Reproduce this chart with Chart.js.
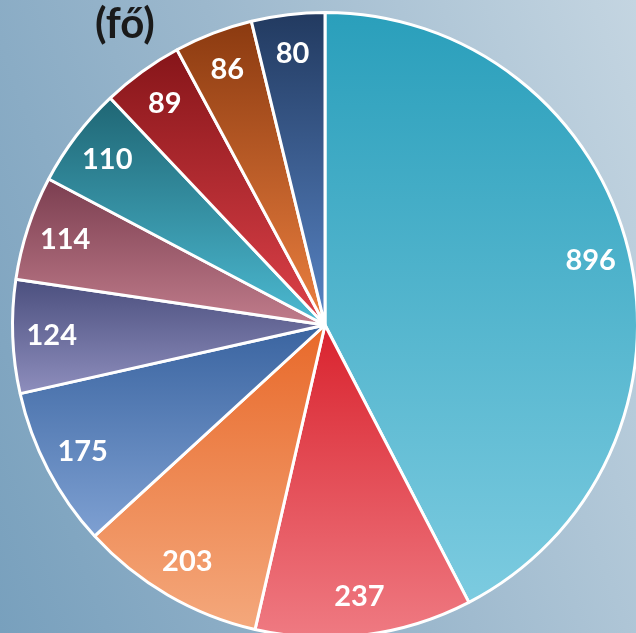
<!DOCTYPE html>
<html>
<head>
<meta charset="utf-8">
<script src="https://cdn.jsdelivr.net/npm/chart.js@4"></script>
<style>
  html, body { margin: 0; padding: 0; width: 636px; height: 633px; overflow: hidden; }
  body { background: linear-gradient(70deg, #78a0bd 0%, #9cb8cd 50%, #c4d5e1 100%); position: relative; }
  #wrap { position: absolute; left: 0; top: 0; width: 650px; height: 650px; }
</style>
</head>
<body>
<div id="wrap"><canvas id="chart"></canvas></div>
<script>
// data (clockwise from 12 o'clock)
const labels = ['A', 'B', 'C', 'D', 'E', 'F', 'G', 'H', 'I', 'J'];
const values = [896, 237, 203, 175, 124, 114, 110, 89, 86, 80];
// gradient colours per slice: top, bottom
const topColors = ['#2a9fbb', '#d9232e', '#e8692a', '#3a64a0', '#4b4f7e', '#7b3e50', '#1f6674', '#861519', '#8b3a10', '#223a60'];
const bottomColors = ['#7ccbe0', '#ef7a82', '#f4a87c', '#7ea0d2', '#8e8ebd', '#c07c8b', '#4cbad2', '#de424a', '#ec8040', '#5884c4'];
const titleText = '(fő)';

Chart.defaults.font.family = 'Lato';

// vertical extent of a slice, from data angles and the controller radius
const sliceGradient = (context) => {
  const chart = context.chart;
  const i = context.dataIndex;
  const area = chart.chartArea;
  const ctrl = chart.getDatasetMeta(0).controller;
  if (!area || !ctrl.outerRadius) return topColors[i];
  const cx = (area.left + area.right) / 2;
  const cy = (area.top + area.bottom) / 2;
  const r = ctrl.outerRadius;
  const total = values.reduce((a, b) => a + b, 0);
  const before = values.slice(0, i).reduce((a, b) => a + b, 0);
  const a0 = (before / total) * 2 * Math.PI;
  const a1 = ((before + values[i]) / total) * 2 * Math.PI;
  // angle measured clockwise from top: y = cy - r*cos(a)
  const ys = [cy, cy - r * Math.cos(a0), cy - r * Math.cos(a1)];
  if (a0 <= 0.0001) ys.push(cy - r);
  if (a0 <= Math.PI && a1 >= Math.PI) ys.push(cy + r);
  const y0 = Math.min(...ys);
  const y1 = Math.max(...ys);
  const g = chart.ctx.createLinearGradient(0, y0, 0, y1);
  g.addColorStop(0, topColors[i]);
  g.addColorStop(1, bottomColors[i]);
  return g;
};

const valueLabels = {
  id: 'valueLabels',
  afterDatasetsDraw(chart) {
    const ctx = chart.ctx;
    const meta = chart.getDatasetMeta(0);
    ctx.save();
    ctx.fillStyle = '#ffffff';
    ctx.font = 'bold 29px Lato';
    ctx.textAlign = 'center';
    ctx.textBaseline = 'middle';
    meta.data.forEach((arc, i) => {
      const mid = (arc.startAngle + arc.endAngle) / 2;
      const d = arc.outerRadius * 0.875;
      ctx.fillText(values[i], arc.x + Math.cos(mid) * d, arc.y + Math.sin(mid) * d);
    });
    ctx.restore();
  },
};

const titleLabel = {
  id: 'titleLabel',
  afterDraw(chart) {
    const ctx = chart.ctx;
    ctx.save();
    ctx.fillStyle = '#1a1a1a';
    ctx.font = 'bold 42px Lato';
    ctx.textAlign = 'left';
    ctx.textBaseline = 'alphabetic';
    ctx.fillText(titleText, 95, 38);
    ctx.restore();
  },
};

const myChart = new Chart(document.getElementById('chart').getContext('2d'), {
  type: 'pie',
  data: {
    labels: labels,
    datasets: [
      {
        data: values,
        backgroundColor: sliceGradient,
        borderColor: '#ffffff',
        borderWidth: 3,
      },
    ],
  },
  options: {
    responsive: true,
    maintainAspectRatio: false,
    animation: false,
    layout: { padding: 11 },
    plugins: {
      legend: { display: false },
      tooltip: { enabled: false },
    },
  },
  plugins: [valueLabels, titleLabel],
});
myChart.update('none');
</script>
</body>
</html>
